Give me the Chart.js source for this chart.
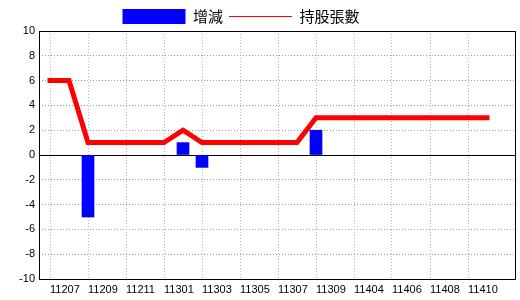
<!DOCTYPE html>
<html>
<head>
<meta charset="utf-8">
<script src="https://cdn.jsdelivr.net/npm/chart.js@4"></script>
<style>
  body { margin: 0; background: #fff; }
  #chart { display: block; }
</style>
</head>
<body>
<canvas id="chart" width="520" height="300"></canvas>
<script>
const categories = ['11207', '11208', '11209', '11210', '11211', '11212',
    '11301', '11302', '11303', '11304', '11305', '11306', '11307', '11308', '11309', '11403',
    '11404', '11405', '11406', '11407', '11408', '11409', '11410', '11411'];
const change = [0, 0, -5, 0, 0, 0, 0, 1, -1, 0, 0, 0, 0, 0, 2, 0, 0, 0, 0, 0, 0, 0, 0, 0];
const holdings = [6, 6, 1, 1, 1, 1, 1, 2, 1, 1, 1, 1, 1, 1, 3, 3, 3, 3, 3, 3, 3, 3, 3, 3];
const yTicks = [-10, -8, -6, -4, -2, 0, 2, 4, 6, 8, 10];

const tickFont = { family: 'Liberation Sans', size: 11 };

// frame round the plot area + solid zero line
const framePlugin = {
    id: 'frame',
    afterLayout(chart) {
        // legend sits a bit left of centre in the original
        const lg = chart.legend;
        lg.left -= 17; lg.right -= 17;
        lg.top += 3; lg.bottom += 3;
    },
    beforeDatasetsDraw(chart) {
        const { ctx, chartArea: a, scales: { y } } = chart;
        const y0 = Math.round(y.getPixelForValue(0)) + 0.5;
        ctx.save();
        ctx.strokeStyle = '#000';
        ctx.lineWidth = 1;
        ctx.beginPath();
        ctx.moveTo(a.left, y0);
        ctx.lineTo(a.right, y0);
        ctx.stroke();
        ctx.restore();
    },
    afterDraw(chart) {
        const { ctx, chartArea: a } = chart;
        ctx.save();
        ctx.strokeStyle = '#000';
        ctx.lineWidth = 1;
        ctx.strokeRect(Math.round(a.left) + 0.5, Math.round(a.top) + 0.5,
            Math.round(a.right - a.left) - 1, Math.round(a.bottom - a.top));
        ctx.restore();
    }
};

const ctx = document.getElementById('chart');

new Chart(ctx, {
    data: {
        datasets: [{
            type: 'line',
            label: '持股張數',
            data: holdings.map((v, i) => ({ x: i, y: v })),
            borderColor: '#ff0000',
            backgroundColor: '#ff0000',
            borderWidth: 5,
            borderCapStyle: 'square',
            pointRadius: 0,
            tension: 0,
            order: 1
        }, {
            type: 'bar',
            label: '增減',
            data: change.map((v, i) => ({ x: i, y: v === 0 ? null : v })),
            backgroundColor: '#0000ff',
            barThickness: 12,
            order: 2
        }]
    },
    options: {
        responsive: false,
        animation: false,
        layout: { padding: { right: 4 } },
        plugins: {
            tooltip: { enabled: false },
            legend: {
                position: 'top',
                labels: {
                    usePointStyle: true,
                    pointStyleWidth: 63,
                    boxHeight: 16,
                    padding: 6,
                    color: '#000',
                    font: { family: 'Noto Sans CJK TC', size: 15 },
                    generateLabels: () => [{
                        text: '增減', pointStyle: 'rect', fillStyle: '#0000ff',
                        strokeStyle: '#0000ff', lineWidth: 0, datasetIndex: 1
                    }, {
                        text: '持股張數', pointStyle: 'line', fillStyle: '#ff0000',
                        strokeStyle: '#ff0000', lineWidth: 1, datasetIndex: 0
                    }]
                }
            }
        },
        scales: {
            x: {
                type: 'linear',
                offset: false,
                min: -11 / 19,
                max: -11 / 19 + 477 / 19,
                afterBuildTicks: (scale) => {
                    scale.ticks = categories.map((c, i) => ({ value: i })).filter(t => t.value % 2 === 0);
                },
                afterFit: (scale) => { scale.height = 21; },
                grid: { color: '#a8bccc', drawTicks: false, offset: false },
                border: { display: false, dash: [1, 2] },
                ticks: {
                    autoSkip: false,
                    maxRotation: 0,
                    align: 'start',
                    padding: 4,
                    color: '#000',
                    font: tickFont,
                    callback: (v) => categories[v]
                }
            },
            y: {
                min: -10,
                max: 10,
                afterBuildTicks: (scale) => {
                    scale.ticks = yTicks.map(v => ({ value: v }));
                },
                afterFit: (scale) => { scale.width = 39; },
                grid: { color: '#999999', drawTicks: false },
                border: { display: false, dash: [1, 2] },
                ticks: {
                    padding: 4,
                    color: '#000',
                    font: tickFont
                }
            }
        }
    },
    plugins: [framePlugin]
});
</script>
</body>
</html>
